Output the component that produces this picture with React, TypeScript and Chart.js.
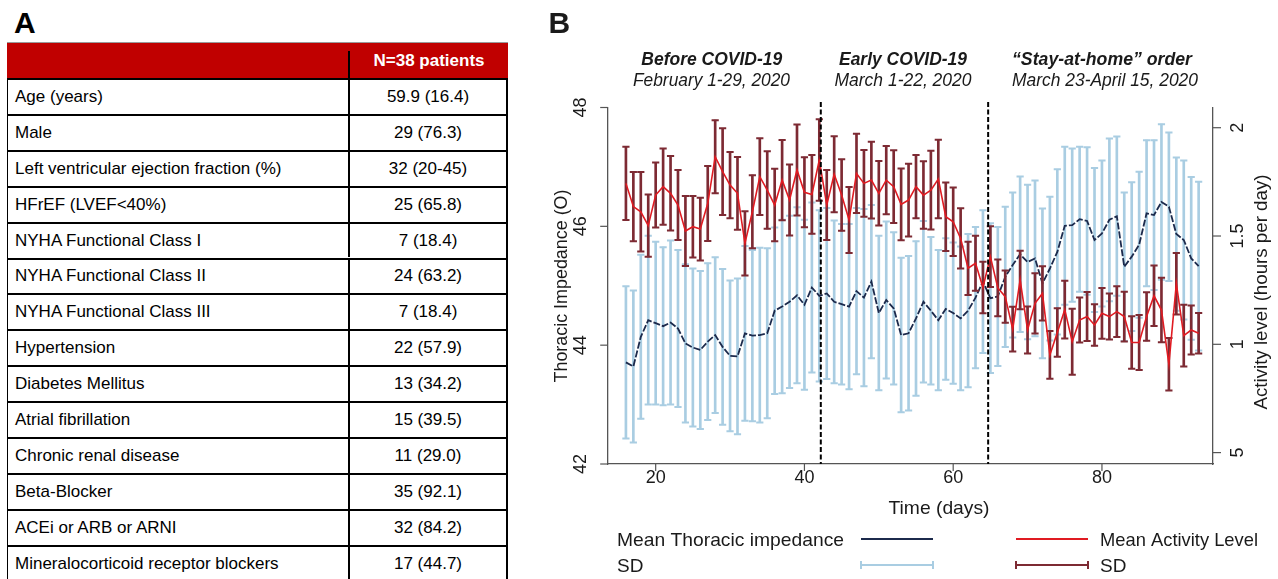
import React, { useEffect, useRef } from "react";
import { Chart, registerables } from "chart.js";

Chart.register(...registerables);

// ---------------- DATA ----------------
const DAYS = [16, 17, 18, 19, 20, 21, 22, 23, 24, 25, 26, 27, 28, 29, 30, 31, 32, 33, 34, 35, 36, 37, 38, 39, 40, 41, 42, 43, 44, 45, 46, 47, 48, 49, 50, 51, 52, 53, 54, 55, 56, 57, 58, 59, 60, 61, 62, 63, 64, 65, 66, 67, 68, 69, 70, 71, 72, 73, 74, 75, 76, 77, 78, 79, 80, 81, 82, 83, 84, 85, 86, 87, 88, 89, 90, 91, 92, 93];

const TI_MEAN = [43.71, 43.64, 44.14, 44.42, 44.37, 44.32, 44.38, 44.28, 44.03, 43.96, 43.92, 44.06, 44.17, 43.97, 43.82, 43.81, 44.2, 44.16, 44.17, 44.2, 44.58, 44.65, 44.73, 44.84, 44.68, 44.97, 44.83, 44.87, 44.73, 44.69, 44.65, 44.91, 44.8, 45.07, 44.54, 44.76, 44.62, 44.17, 44.2, 44.45, 44.73, 44.58, 44.42, 44.61, 44.54, 44.45, 44.58, 44.8, 45.07, 44.79, 44.82, 45.15, 45.35, 45.53, 45.4, 45.46, 45.04, 45.29, 45.57, 46.01, 46.02, 46.12, 46.09, 45.77, 45.88, 46.11, 46.17, 45.32, 45.49, 45.69, 46.22, 46.19, 46.41, 46.33, 45.87, 45.77, 45.46, 45.33];

const TI_SD = [1.28, 1.28, 1.38, 1.42, 1.37, 1.33, 1.38, 1.32, 1.33, 1.33, 1.33, 1.32, 1.31, 1.31, 1.27, 1.31, 1.47, 1.44, 1.47, 1.43, 1.4, 1.46, 1.45, 1.48, 1.43, 1.43, 1.44, 1.44, 1.37, 1.35, 1.39, 1.4, 1.49, 1.29, 1.3, 1.32, 1.28, 1.3, 1.3, 1.3, 1.36, 1.24, 1.18, 1.19, 1.19, 1.21, 1.29, 1.19, 1.2, 1.26, 1.17, 1.18, 1.22, 1.31, 1.3, 1.31, 1.26, 1.21, 1.39, 1.33, 1.29, 1.22, 1.24, 1.21, 1.23, 1.37, 1.34, 1.25, 1.25, 1.23, 1.23, 1.26, 1.31, 1.25, 1.29, 1.34, 1.37, 1.42];

const ACT_MEAN = [1.743, 1.636, 1.612, 1.548, 1.689, 1.728, 1.697, 1.643, 1.523, 1.543, 1.532, 1.65, 1.866, 1.797, 1.735, 1.697, 1.466, 1.612, 1.774, 1.712, 1.643, 1.758, 1.666, 1.805, 1.702, 1.692, 1.851, 1.643, 1.785, 1.689, 1.574, 1.789, 1.743, 1.758, 1.697, 1.758, 1.728, 1.646, 1.666, 1.728, 1.689, 1.712, 1.763, 1.589, 1.566, 1.489, 1.351, 1.374, 1.262, 1.405, 1.26, 1.22, 1.07, 1.297, 1.066, 1.189, 1.235, 0.951, 1.055, 1.16, 1.012, 1.112, 1.128, 1.089, 1.143, 1.128, 1.151, 1.128, 1.008, 1.008, 1.128, 1.224, 1.158, 0.908, 1.28, 1.04, 1.066, 1.051];

const ACT_SD = [0.169, 0.16, 0.183, 0.144, 0.15, 0.176, 0.172, 0.162, 0.162, 0.142, 0.145, 0.173, 0.169, 0.2, 0.153, 0.168, 0.148, 0.169, 0.177, 0.179, 0.167, 0.185, 0.164, 0.21, 0.162, 0.182, 0.188, 0.162, 0.175, 0.165, 0.152, 0.183, 0.154, 0.177, 0.149, 0.158, 0.168, 0.166, 0.168, 0.146, 0.156, 0.182, 0.181, 0.158, 0.158, 0.139, 0.123, 0.127, 0.119, 0.14, 0.131, 0.121, 0.103, 0.135, 0.108, 0.139, 0.125, 0.11, 0.112, 0.133, 0.152, 0.104, 0.113, 0.096, 0.117, 0.106, 0.117, 0.115, 0.121, 0.127, 0.112, 0.14, 0.149, 0.121, 0.142, 0.143, 0.113, 0.094];

const X_TICKS = [20, 40, 60, 80];
const TI_TICKS = [42, 44, 46, 48];
const ACT_TICKS = [0.5, 1, 1.5, 2];
const ACT_TICK_LABELS = ["5", "1", "1.5", "2"];
const PERIOD_LINES = [42.2, 64.7];
const PERIOD_TITLES = ["Before COVID-19", "Early COVID-19", "\u201cStay-at-home\u201d order"];
const PERIOD_DATES = ["February 1-29, 2020", "March 1-22, 2020", "March 23-April 15, 2020"];

const TABLE_HEADER = "N=38 patients";
const TABLE_LABELS = [
  "Age (years)",
  "Male",
  "Left ventricular ejection fraction (%)",
  "HFrEF (LVEF<40%)",
  "NYHA Functional Class I",
  "NYHA Functional Class II",
  "NYHA Functional Class III",
  "Hypertension",
  "Diabetes Mellitus",
  "Atrial fibrillation",
  "Chronic renal disease",
  "Beta-Blocker",
  "ACEi or ARB or ARNI",
  "Mineralocorticoid receptor blockers",
];
const TABLE_VALUES = [
  "59.9 (16.4)",
  "29 (76.3)",
  "32 (20-45)",
  "25 (65.8)",
  "7 (18.4)",
  "24 (63.2)",
  "7 (18.4)",
  "22 (57.9)",
  "13 (34.2)",
  "15 (39.5)",
  "11 (29.0)",
  "35 (92.1)",
  "32 (84.2)",
  "17 (44.7)",
];

// ---------------- LAYOUT / STYLE ----------------
const FONT = '"Liberation Sans", Arial, Helvetica, sans-serif';
const OX = 520; // canvas left on page
const CW = 758;
const CH = 579;
const PLOT_LEFT = 607.7;
const PLOT_RIGHT = 1213;
const PLOT_TOP = 107.5;
const PLOT_BOTTOM = 464;

const AXIS = "#555555";
const TXT = "#1a1a1a";
const C_TI_SD = "#a9cde2";
const C_TI = "#1c2a4c";
const C_ACT_SD = "#7d2a33";
const C_ACT = "#e01b22";

function drawText(
  ctx: CanvasRenderingContext2D,
  s: string,
  x: number,
  y: number,
  o: { size: number; weight?: string; style?: string; w?: number; align?: CanvasTextAlign; rot?: number; color?: string; baseline?: CanvasTextBaseline }
) {
  ctx.save();
  ctx.font = `${o.style || "normal"} ${o.weight || "normal"} ${o.size}px ${FONT}`;
  ctx.fillStyle = o.color || TXT;
  ctx.textBaseline = o.baseline || "alphabetic";
  ctx.textAlign = o.align || "center";
  ctx.translate(x - OX, y);
  if (o.rot) ctx.rotate(o.rot);
  if (o.w) {
    const m = ctx.measureText(s).width;
    if (m > 0) ctx.scale(o.w / m, 1);
  }
  ctx.fillText(s, 0, 0);
  ctx.restore();
}

function line(ctx: CanvasRenderingContext2D, x1: number, y1: number, x2: number, y2: number, color: string, w: number) {
  ctx.save();
  ctx.strokeStyle = color;
  ctx.lineWidth = w;
  ctx.beginPath();
  ctx.moveTo(x1 - OX, y1);
  ctx.lineTo(x2 - OX, y2);
  ctx.stroke();
  ctx.restore();
}

const panelPlugin = {
  id: "panelB",
  afterDatasetsDraw(chart: any) {
    const ctx = chart.ctx as CanvasRenderingContext2D;
    const xs = chart.scales.x;
    ctx.save();
    ctx.strokeStyle = "#000";
    ctx.lineWidth = 2;
    ctx.setLineDash([5, 2.5]);
    PERIOD_LINES.forEach((v) => {
      const px = xs.getPixelForValue(v);
      ctx.beginPath();
      ctx.moveTo(px, 102);
      ctx.lineTo(px, chart.chartArea.bottom);
      ctx.stroke();
    });
    ctx.restore();
  },
  afterDraw(chart: any) {
    const ctx = chart.ctx as CanvasRenderingContext2D;
    const xs = chart.scales.x;
    const ys = chart.scales.y;
    const ys1 = chart.scales.y1;

    // Tick marks
    X_TICKS.forEach((v) => {
      const px = xs.getPixelForValue(v) + OX;
      line(ctx, px, PLOT_BOTTOM, px, PLOT_BOTTOM + 7, AXIS, 1.2);
    });
    TI_TICKS.forEach((v) => {
      const py = ys.getPixelForValue(v);
      line(ctx, PLOT_LEFT - 7.5, py, PLOT_LEFT, py, AXIS, 1.2);
    });
    ACT_TICKS.forEach((v) => {
      const py = ys1.getPixelForValue(v);
      line(ctx, PLOT_RIGHT, py, PLOT_RIGHT + 8, py, AXIS, 1.2);
    });

    // Panel letter
    drawText(ctx, "B", 548.5, 33, { size: 30, weight: "bold", align: "left" });

    // Period headers
    const cx1 = [711.8, 903, 1102];
    const cx2 = [711.5, 903, 1105];
    const w1 = [141, 128, 180];
    const w2 = [157, 137, 186];
    PERIOD_TITLES.forEach((t, i) => drawText(ctx, t, cx1[i], 65, { size: 17.5, weight: "bold", style: "italic", w: w1[i] }));
    PERIOD_DATES.forEach((t, i) => drawText(ctx, t, cx2[i], 86, { size: 17.5, style: "italic", w: w2[i] }));

    // X tick labels
    X_TICKS.forEach((v) => {
      drawText(ctx, String(v), xs.getPixelForValue(v) + OX, 478, { size: 18, baseline: "middle" });
    });
    // Left tick labels (rotated)
    TI_TICKS.forEach((v) => {
      drawText(ctx, String(v), 581, ys.getPixelForValue(v), { size: 18, baseline: "middle", rot: -Math.PI / 2 });
    });
    // Right tick labels (rotated)
    ACT_TICKS.forEach((v, i) => {
      drawText(ctx, ACT_TICK_LABELS[i], 1238, ys1.getPixelForValue(v), { size: 18, baseline: "middle", rot: -Math.PI / 2 });
    });

    // Axis titles
    drawText(ctx, "Thoracic Impedance (O)", 562, 286, { size: 18, baseline: "middle", rot: -Math.PI / 2, w: 193 });
    drawText(ctx, "Activity level (hours per day)", 1262, 292, { size: 18.5, baseline: "middle", rot: -Math.PI / 2, w: 235 });
    drawText(ctx, "Time (days)", 939, 514, { size: 19, w: 101 });

    // Legend
    drawText(ctx, "Mean Thoracic impedance", 617, 546, { size: 19, align: "left", w: 227 });
    drawText(ctx, "SD", 617, 572, { size: 19, align: "left" });
    drawText(ctx, "Mean Activity Level", 1100, 546, { size: 19, align: "left", w: 158 });
    drawText(ctx, "SD", 1100, 572, { size: 19, align: "left" });

    line(ctx, 861, 539, 933, 539, C_TI, 2);
    line(ctx, 861, 565, 933, 565, C_TI_SD, 2);
    line(ctx, 861, 561, 861, 569, C_TI_SD, 2);
    line(ctx, 933, 561, 933, 569, C_TI_SD, 2);

    line(ctx, 1016, 539, 1088, 539, C_ACT, 2);
    line(ctx, 1016, 565, 1088, 565, C_ACT_SD, 2);
    line(ctx, 1016, 561, 1016, 569, C_ACT_SD, 2);
    line(ctx, 1088, 561, 1088, 569, C_ACT_SD, 2);
  },
};

function ChartPanel() {
  const ref = useRef<HTMLCanvasElement>(null);
  useEffect(() => {
    const canvas = ref.current!;
    const tiBars = DAYS.map((d, i) => ({ x: d, y: [TI_MEAN[i] - TI_SD[i], TI_MEAN[i] + TI_SD[i]] }));
    const tiCaps = DAYS.flatMap((d, i) => [
      { x: d, y: TI_MEAN[i] + TI_SD[i] },
      { x: d, y: TI_MEAN[i] - TI_SD[i] },
    ]);
    const tiLine = DAYS.map((d, i) => ({ x: d, y: TI_MEAN[i] }));
    const actBars = DAYS.map((d, i) => ({ x: d, y: [ACT_MEAN[i] - ACT_SD[i], ACT_MEAN[i] + ACT_SD[i]] }));
    const actCaps = DAYS.flatMap((d, i) => [
      { x: d, y: ACT_MEAN[i] + ACT_SD[i] },
      { x: d, y: ACT_MEAN[i] - ACT_SD[i] },
    ]);
    const actLine = DAYS.map((d, i) => ({ x: d, y: ACT_MEAN[i] }));

    const axisCommon = {
      ticks: { display: false },
      grid: { display: false, drawOnChartArea: false, drawTicks: false },
      border: { display: true, color: AXIS, width: 1.3 },
    };

    const chart = new Chart(canvas, {
      type: "line",
      data: {
        datasets: [
          { type: "bar", data: tiBars as any, yAxisID: "y", backgroundColor: C_TI_SD, barThickness: 2, grouped: false, order: 6 } as any,
          { type: "line", data: tiCaps, yAxisID: "y", showLine: false, pointStyle: "line", pointRadius: 3.6, pointBorderColor: C_TI_SD, pointBackgroundColor: C_TI_SD, pointBorderWidth: 2, order: 5 } as any,
          { type: "line", data: tiLine, yAxisID: "y", borderColor: C_TI, borderWidth: 1.8, borderDash: [7, 2], pointRadius: 0, tension: 0, order: 4 } as any,
          { type: "bar", data: actBars as any, yAxisID: "y1", backgroundColor: C_ACT_SD, barThickness: 2, grouped: false, order: 3 } as any,
          { type: "line", data: actCaps, yAxisID: "y1", showLine: false, pointStyle: "line", pointRadius: 3.6, pointBorderColor: C_ACT_SD, pointBackgroundColor: C_ACT_SD, pointBorderWidth: 2, order: 2 } as any,
          { type: "line", data: actLine, yAxisID: "y1", borderColor: C_ACT, borderWidth: 1.6, pointRadius: 0, tension: 0, order: 1 } as any,
        ],
      },
      options: {
        animation: false,
        responsive: false,
        events: [],
        layout: { padding: { top: PLOT_TOP, left: 0, right: 0, bottom: 0 } },
        plugins: { legend: { display: false }, tooltip: { enabled: false } },
        scales: {
          x: {
            type: "linear",
            min: 13.55,
            max: 94.93,
            offset: false,
            afterBuildTicks: (s: any) => {
              s.ticks = X_TICKS.map((v) => ({ value: v }));
            },
            afterFit: (s: any) => {
              s.height = CH - PLOT_BOTTOM;
            },
            ...axisCommon,
          },
          y: {
            type: "linear",
            position: "left",
            min: 42,
            max: 48,
            afterBuildTicks: (s: any) => {
              s.ticks = TI_TICKS.map((v) => ({ value: v }));
            },
            afterFit: (s: any) => {
              s.width = PLOT_LEFT - OX;
            },
            ...axisCommon,
          },
          y1: {
            type: "linear",
            position: "right",
            min: 0.4474,
            max: 2.0933,
            afterBuildTicks: (s: any) => {
              s.ticks = ACT_TICKS.map((v) => ({ value: v }));
            },
            afterFit: (s: any) => {
              s.width = CW - (PLOT_RIGHT - OX);
            },
            ...axisCommon,
          },
        },
      } as any,
      plugins: [panelPlugin],
    });
    return () => chart.destroy();
  }, []);
  return (
    <canvas
      ref={ref}
      width={CW}
      height={CH}
      style={{ position: "absolute", left: OX, top: 0, width: CW, height: CH }}
    />
  );
}

const ROW_H = 35.9;

function TablePanel() {
  return (
    <>
      <div
        style={{
          position: "absolute",
          left: 14,
          top: 8,
          fontFamily: FONT,
          fontWeight: "bold",
          fontSize: 30,
          lineHeight: "30px",
          color: "#000",
        }}
      >
        A
      </div>
      <div style={{ position: "absolute", left: 7, top: 42, width: 501, height: 540, fontFamily: FONT, fontSize: 17, color: "#000" }}>
        <div
          style={{
            position: "absolute",
            left: 0,
            top: 0,
            width: 501,
            height: 36,
            background: "#c00000",
            borderTop: "1px solid #9a9a9a",
            boxSizing: "border-box",
          }}
        >
          <div style={{ position: "absolute", left: 341, top: 8, width: 2, height: 28, background: "#000" }} />
          <div
            style={{
              position: "absolute",
              left: 343,
              right: 0,
              top: 0,
              bottom: 0,
              display: "flex",
              alignItems: "center",
              justifyContent: "center",
              color: "#fff",
              fontWeight: "bold",
            }}
          >
            {TABLE_HEADER}
          </div>
        </div>
        {TABLE_LABELS.map((lab, i) => (
          <div
            key={i}
            style={{
              position: "absolute",
              left: 0,
              top: 36 + i * ROW_H,
              width: 501,
              height: ROW_H + 2,
              borderTop: "2px solid #000",
              borderLeft: "1.5px solid #000",
              borderRight: "2px solid #000",
              boxSizing: "border-box",
            }}
          >
            <div style={{ position: "absolute", left: 7, top: 0, bottom: 2, display: "flex", alignItems: "center", whiteSpace: "nowrap" }}>
              {lab}
            </div>
            <div
              style={{
                position: "absolute",
                left: 340,
                right: 0,
                top: 0,
                bottom: 2,
                borderLeft: "2px solid #000",
                display: "flex",
                alignItems: "center",
                justifyContent: "center",
              }}
            >
              {TABLE_VALUES[i]}
            </div>
          </div>
        ))}
      </div>
    </>
  );
}

export default function App() {
  return (
    <div style={{ position: "fixed", left: 0, top: 0, width: 1278, height: 579, background: "#fff", overflow: "hidden" }}>
      <TablePanel />
      <ChartPanel />
    </div>
  );
}
